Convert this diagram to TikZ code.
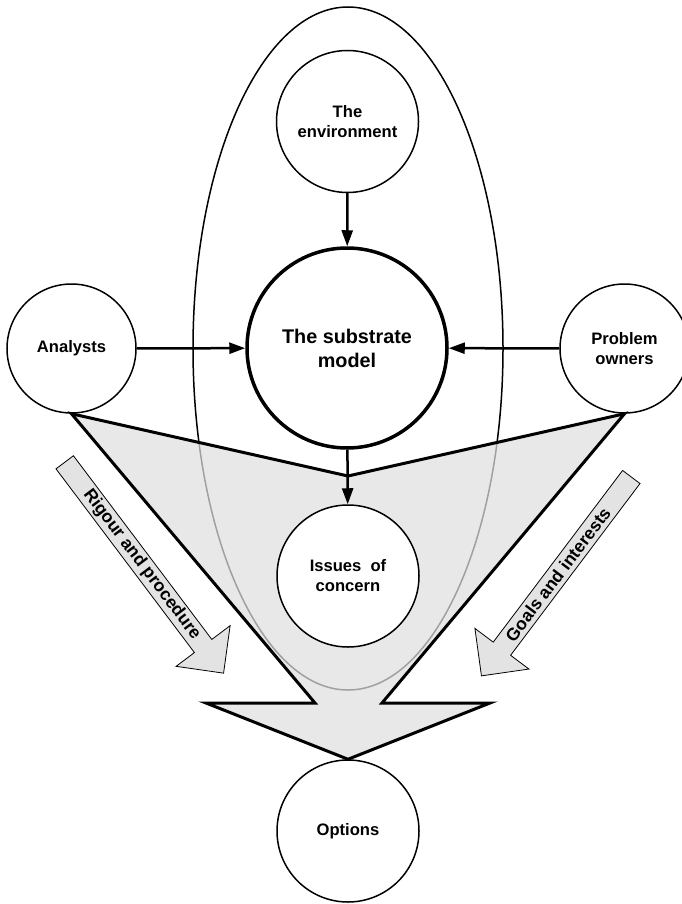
\documentclass[tikz,border=0pt]{standalone}
\usepackage{fontspec}
\setmainfont{Liberation Sans}
\usetikzlibrary{arrows.meta,shapes.geometric}
\definecolor{polyfill}{gray}{0.875}
\definecolor{arrfill}{gray}{0.89}
\begin{document}
\begin{tikzpicture}[x=1pt,y=-1pt,
  lbl/.style={font=\fontsize{16.6}{20}\selectfont\bfseries, align=center},
  circ/.style={circle, draw, line width=1.5pt, fill=white, minimum size=129pt, inner sep=0pt, lbl},
  bigcirc/.style={circ, minimum size=142pt},
  conn/.style={line width=2.5pt, -{Triangle[length=16pt,width=11pt]}},
  smallarrow/.style={draw, line width=0.8pt, fill=arrfill, line join=miter},
  arrlbl/.style={font=\fontsize{17.5}{20}\selectfont\bfseries, inner sep=0pt}
]
\useasboundingbox (0,0) rectangle (682,904);
\clip (0,0) rectangle (682,904);

% big ellipse
\node[ellipse, draw, line width=1.5pt, minimum width=310pt, minimum height=683pt, inner sep=0pt] (zone) at (348,348.5) {};

% nodes above the band
\node[bigcirc] (env) at (347.5,121.5) {The\\environment};
\node[circ, minimum size=200pt, line width=3.5pt, font=\fontsize{19.8}{24}\selectfont\bfseries] (sub) at (347,348) {The substrate\\model};
\node[circ] (ana) at (71.5,348.5) {Analysts};
\node[circ] (po) at (624.5,348.5) {Problem\\owners};

\draw[conn] (env) -- (sub);
\draw[conn] (ana) -- (sub);
\draw[conn] (po) -- (sub);

% big translucent arrow
\node[bigcirc] (opt) at (348,831) {Options};
\coordinate (M) at (348,476);
\coordinate (Ri) at (382,703);
\coordinate (Ro) at (490,703);
\coordinate (Lo) at (206,703);
\coordinate (Li) at (315,703);
\fill[polyfill, fill opacity=0.72] (ana.south) -- (M) -- (po.south) -- (Ri) -- (Ro) -- (opt.north) -- (Lo) -- (Li) -- cycle;
\draw[line width=3pt, line join=miter] (ana.south) -- (M) -- (po.south) -- (Ri) -- (Ro) -- (opt.north) -- (Lo) -- (Li) -- cycle;

\node[bigcirc] (iss) at (348,576) {Issues\hspace{0.55em}of\\concern};
\draw[conn] (sub) -- (iss);

% side arrows
\begin{scope}[shift={(64.7,462.3)}, rotate=-53]
  \draw[smallarrow] (0,-10.9) -- (230,-10.9) -- (230,-33.8) -- (264,0) -- (230,33.8) -- (230,10.9) -- (0,10.9) -- cycle;
  \node[arrlbl, rotate=-53] (rig) at (128,0) {Rigour and procedure};
\end{scope}
\begin{scope}[shift={(631.3,477)}, rotate=-127]
  \draw[smallarrow] (0,-10.9) -- (215,-10.9) -- (215,-33.8) -- (249,0) -- (215,33.8) -- (215,10.9) -- (0,10.9) -- cycle;
  \node[arrlbl, rotate=53] (goa) at (122,0) {Goals and interests};
\end{scope}
\end{tikzpicture}
\end{document}
